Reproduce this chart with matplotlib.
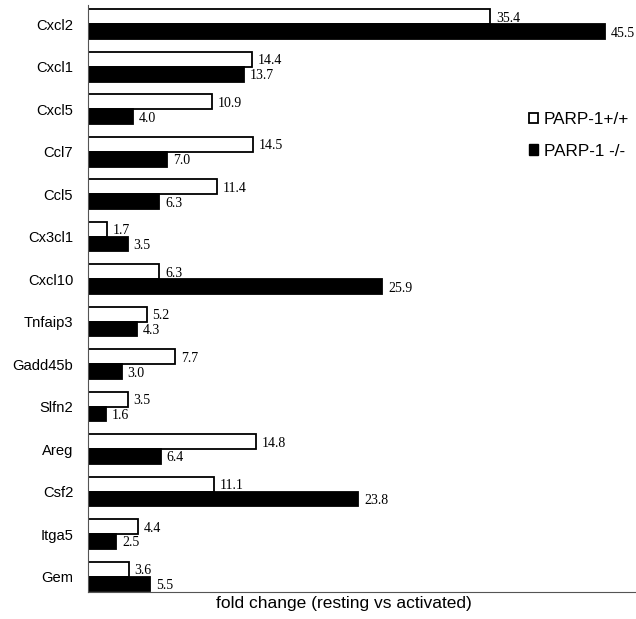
import numpy as np
import matplotlib.pyplot as plt
from matplotlib.patches import Patch

genes = ['Cxcl2', 'Cxcl1', 'Cxcl5', 'Ccl7', 'Ccl5', 'Cx3cl1', 'Cxcl10',
         'Tnfaip3', 'Gadd45b', 'Slfn2', 'Areg', 'Csf2', 'Itga5', 'Gem']
wt = [35.4, 14.4, 10.9, 14.5, 11.4, 1.7, 6.3, 5.2, 7.7, 3.5, 14.8, 11.1, 4.4, 3.6]
ko = [45.5, 13.7, 4.0, 7.0, 6.3, 3.5, 25.9, 4.3, 3.0, 1.6, 6.4, 23.8, 2.5, 5.5]

fig = plt.figure(figsize=(6.36, 6.19), dpi=100)
ax = fig.add_axes([0.138, 0.0436, 0.862, 0.948])

y = np.arange(len(genes))
h = 0.35
ax.barh(y - h / 2, wt, height=h, color='white', edgecolor='black', linewidth=1.3)
ax.barh(y + h / 2, ko, height=h, color='black', edgecolor='black', linewidth=1.3)

# value labels
for i in range(len(genes)):
    ax.text(wt[i] + 0.5, y[i] - h / 2, f'{wt[i]:.1f}', va='center_baseline', ha='left',
            family='Liberation Serif', fontsize=10)
    ax.text(ko[i] + 0.5, y[i] + h / 2, f'{ko[i]:.1f}', va='center_baseline', ha='left',
            family='Liberation Serif', fontsize=10)

ax.set_xlim(0, 48.2)
ax.set_ylim(len(genes) - 1 + 0.365, -0.447)
ax.set_yticks(y)
ax.set_yticklabels(genes, family='Liberation Sans', fontsize=10.6)
ax.tick_params(axis='y', length=0, pad=10.5)
ax.set_xticks([])
ax.spines['top'].set_visible(False)
ax.spines['right'].set_visible(False)
ax.spines['left'].set_color('#555555')
ax.spines['bottom'].set_color('#555555')
ax.set_xlabel('fold change (resting vs activated)', family='Liberation Sans', fontsize=12.5)
ax.xaxis.set_label_coords(0.467, -0.006)

handles = [Patch(facecolor='white', edgecolor='black', linewidth=1.3),
           Patch(facecolor='black', edgecolor='black')]
ax.legend(handles, ['PARP-1+/+', 'PARP-1 -/-'], loc='center left', bbox_to_anchor=(0.805, 0.778),
          frameon=False, prop={'family': 'Liberation Sans', 'size': 12.3},
          borderpad=0, borderaxespad=0,
          handlelength=0.55, handleheight=0.55, handletextpad=0.3, labelspacing=0.95)

fig.savefig('out.png', dpi=100)
